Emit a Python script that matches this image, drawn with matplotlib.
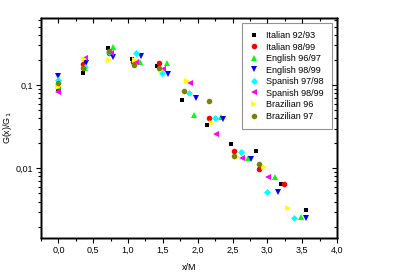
import numpy as np
import matplotlib
matplotlib.use("Agg")
import matplotlib.pyplot as plt
from matplotlib.ticker import MultipleLocator, FixedLocator, FuncFormatter, NullFormatter, LogLocator

plt.rcParams['font.family'] = ['Liberation Sans', 'DejaVu Sans']

# data
it9293_x = [0.0, 0.35, 0.71, 1.06, 1.41, 1.77, 2.13, 2.48, 2.84, 3.19, 3.55]
it9293_y = [0.089, 0.141, 0.28, 0.203, 0.171, 0.067, 0.0328, 0.0196, 0.0163, 0.0065, 0.00318]

it9899_x = [0.0, 0.36, 0.72, 1.07, 1.44, 2.16, 2.52, 2.88, 3.24]
it9899_y = [0.092, 0.177, 0.24, 0.19, 0.185, 0.04, 0.0163, 0.0098, 0.0065]

en9697_x = [0.0, 0.38, 0.78, 1.17, 1.56, 1.95, 2.34, 2.72, 3.11, 3.49]
en9697_y = [0.098, 0.16, 0.283, 0.19, 0.182, 0.0436, 0.041, 0.0132, 0.0079, 0.00258]

en9899_x = [0.0, 0.40, 0.79, 1.19, 1.58, 1.97, 2.37, 2.76, 3.15, 3.55]
en9899_y = [0.128, 0.182, 0.218, 0.223, 0.136, 0.069, 0.039, 0.0128, 0.0052, 0.00253]

sp9798_x = [0.0, 0.38, 0.73, 1.12, 1.49, 1.88, 2.25, 2.62, 2.99, 3.38]
sp9798_y = [0.115, 0.166, 0.25, 0.24, 0.141, 0.081, 0.04, 0.0156, 0.0052, 0.00255]

sp9899_x = [0.0, 0.38, 0.75, 1.12, 1.50, 1.89, 2.26, 2.63, 3.01]
sp9899_y = [0.083, 0.209, 0.24, 0.19, 0.155, 0.105, 0.026, 0.0132, 0.0078]

br96_x = [0.0, 0.365, 0.73, 1.10, 1.47, 1.84, 2.20, 2.57, 2.95, 3.30]
br96_y = [0.0955, 0.204, 0.20, 0.20, 0.153, 0.112, 0.0347, 0.0138, 0.0103, 0.00337]

br97_x = [0.0, 0.36, 0.72, 1.08, 1.44, 1.80, 2.16, 2.52, 2.88]
br97_y = [0.105, 0.158, 0.256, 0.175, 0.161, 0.085, 0.064, 0.0142, 0.0114]

series = [
    (it9293_x, it9293_y, 'Italian 92/93', 's', 'black', 3.5),
    (it9899_x, it9899_y, 'Italian 98/99', 'o', 'red', 4),
    (en9697_x, en9697_y, 'English 96/97', '^', '#00ff00', 4.2),
    (en9899_x, en9899_y, 'English 98/99', 'v', 'blue', 4.2),
    (sp9798_x, sp9798_y, 'Spanish 97/98', 'D', 'cyan', 3.5),
    (sp9899_x, sp9899_y, 'Spanish 98/99', '<', 'magenta', 4.2),
    (br96_x, br96_y, 'Brazilian 96', '>', 'yellow', 4.2),
    (br97_x, br97_y, 'Brazilian 97', 'o', '#808000', 4),
]

fig = plt.figure(figsize=(3.93, 2.75), dpi=100)
ax = fig.add_axes([0.1043, 0.1345, 0.7532, 0.80])

for x, y, lab, m, c, ms in series:
    ax.plot(x, y, linestyle='none', marker=m, color=c, markersize=ms,
            markeredgewidth=0, label=lab)

ax.set_yscale('log')
ax.set_xlim(-0.25, 4.0)
ax.set_ylim(0.00146, 0.637)

comma = FuncFormatter(lambda v, p: ('%.1f' % v).replace('.', ','))
ax.xaxis.set_major_locator(MultipleLocator(0.5))
ax.xaxis.set_minor_locator(MultipleLocator(0.25))
ax.xaxis.set_major_formatter(comma)
ax.yaxis.set_major_locator(FixedLocator([0.01, 0.1]))
ax.yaxis.set_major_formatter(FuncFormatter(lambda v, p: ('%g' % v).replace('.', ',')))
ax.yaxis.set_minor_locator(LogLocator(base=10, subs=np.arange(2, 10)))
ax.yaxis.set_minor_formatter(NullFormatter())
ax.tick_params(which='both', direction='out', labelsize=6.5, width=0.8)
ax.tick_params(which='major', length=3.5, pad=2)
ax.tick_params(which='minor', length=2)

# mirrored axes with inward ticks
axt = ax.twiny()
axt.set_xlim(ax.get_xlim())
axt.xaxis.set_major_locator(MultipleLocator(0.5))
axt.xaxis.set_minor_locator(MultipleLocator(0.25))
axt.tick_params(which='both', direction='in', labeltop=False, width=0.8)
axt.tick_params(which='major', length=3.5)
axt.tick_params(which='minor', length=2)
axr = ax.twinx()
axr.set_yscale('log')
axr.set_ylim(ax.get_ylim())
axr.yaxis.set_major_locator(FixedLocator([0.01, 0.1]))
axr.yaxis.set_minor_locator(LogLocator(base=10, subs=np.arange(2, 10)))
axr.tick_params(which='both', direction='in', labelright=False, width=0.8)
axr.tick_params(which='major', length=3.5)
axr.tick_params(which='minor', length=2)

for a in (ax, axt, axr):
    for s in a.spines.values():
        s.set_linewidth(1.0)

ax.set_xlabel('x/M', fontsize=6.5, labelpad=6)
ax.set_ylabel('G(x)/G$_1$', fontsize=6.5, labelpad=1)

leg = ax.legend(loc='upper right', bbox_to_anchor=(0.983, 0.978), fontsize=6.5,
                frameon=True, fancybox=False, edgecolor='#777777',
                handlelength=1.0, handletextpad=0.8, labelspacing=0.28,
                borderpad=0.9, borderaxespad=0)
leg.get_frame().set_linewidth(0.8)
leg.set_zorder(5)

fig.savefig('out.png', dpi=100)
